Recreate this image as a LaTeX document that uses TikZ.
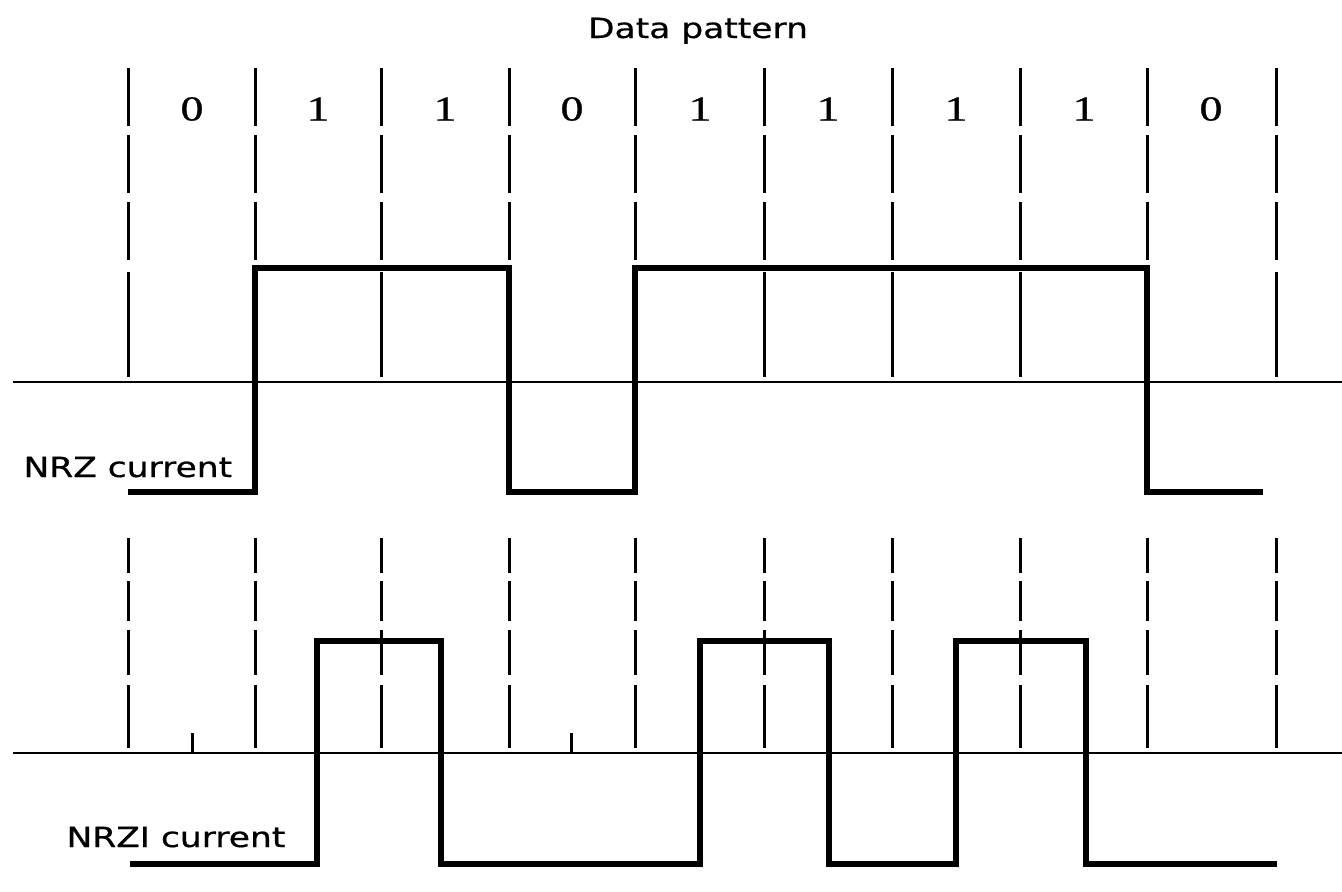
\documentclass[tikz,border=0pt]{standalone}
\usepackage{fontspec}
\newfontfamily\labelfont[FakeBold=0.6]{DejaVu Sans}
\newfontfamily\digitfont[FakeBold=0.8]{Liberation Serif}
\begin{document}
\begin{tikzpicture}[x=0.5pt,y=-0.5pt,
  wave/.style={line width=2.7pt,line join=miter},
  axisline/.style={line width=1.3pt},
  clockline/.style={line width=1.5pt},
  tick/.style={line width=1.5pt},
  caption/.style={font=\labelfont\fontsize{13.9}{16}\selectfont,xscale=1.24,inner sep=0pt},
  bitval/.style={font=\digitfont\fontsize{17.5}{20}\selectfont,xscale=1.3,inner sep=0pt}]
\useasboundingbox (0,0) rectangle (1342,891);

% title
\node[caption,anchor=base] (title) at (698,38) {Data pattern};

% bit cell boundaries, upper and lower traces
\foreach \xx in {128,255,381,509,635,764,892,1020,1147,1276}{
  \draw[clockline] (\xx,68) -- (\xx,126) (\xx,135) -- (\xx,193)
                   (\xx,202) -- (\xx,260) (\xx,272) -- (\xx,377);
  \draw[clockline] (\xx,538) -- (\xx,573) (\xx,581) -- (\xx,621)
                   (\xx,630) -- (\xx,675) (\xx,685) -- (\xx,748);
}

% data bits
\foreach \b/\cx [count=\k from 0] in {0/192,1/318,1/445,0/572,1/700,1/828,1/956,1/1084,0/1211}{
  \node[bitval] (bit\k) at (\cx,109) {\b};
}

% zero lines
\coordinate (za) at (13,382);
\coordinate (zb) at (1342,382);
\coordinate (zc) at (13,753);
\coordinate (zd) at (1342,753);
\draw[axisline] (za) -- (zb);
\draw[axisline] (zc) -- (zd);

% mid-cell marks on the lower zero line
\draw[tick] (192,733) -- (192,753);
\draw[tick] (571,733) -- (571,753);

% NRZ current
\node[caption,anchor=base west] (nrz) at (23,477) {NRZ current};
\draw[wave] (128,492) -- (255,492) -- (255,268) -- (509,268) -- (509,492)
  -- (635,492) -- (635,268) -- (1147,268) -- (1147,492) -- (1263,492);

% NRZI current
\node[caption,anchor=base west] (nrzi) at (66,847) {NRZI current};
\draw[wave] (130,864) -- (317,864) -- (317,641) -- (441,641) -- (441,864)
  -- (700,864) -- (700,641) -- (829,641) -- (829,864) -- (956,864)
  -- (956,641) -- (1086,641) -- (1086,864) -- (1277,864);
\end{tikzpicture}
\end{document}
